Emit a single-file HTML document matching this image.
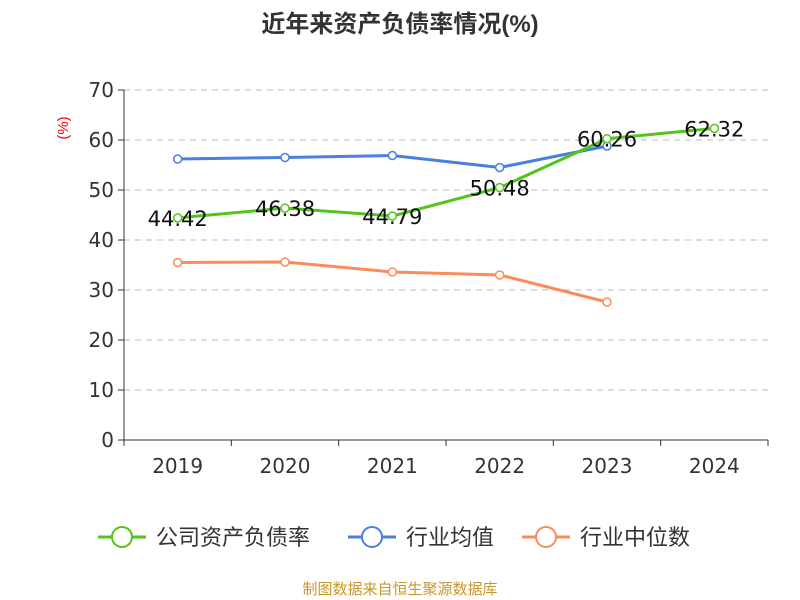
<!DOCTYPE html>
<html><head><meta charset="utf-8"><style>
body{margin:0;background:#fff;}
svg{display:block;font-family:"Liberation Sans","Noto Sans CJK SC",sans-serif;}
.num{font-family:"DejaVu Sans","Liberation Sans",sans-serif;}
</style></head><body>
<svg id="chart" width="800" height="600">
<text x="400" y="32" text-anchor="middle" font-size="24" font-weight="bold" fill="#333">近年来资产负债率情况(%)</text>
<text x="68" y="128" text-anchor="middle" font-size="15" fill="#e00" transform="rotate(-90 68 128)">(%)</text>
<g id="grid"></g><g id="axes"></g><g id="series"></g>
<g>
<g><line x1="98" y1="537" x2="146" y2="537" stroke="#52c41a" stroke-width="3"/><circle cx="122" cy="537" r="10" fill="#fff" stroke="#52c41a" stroke-width="2"/><text x="156" y="545" font-size="22" fill="#333">公司资产负债率</text></g>
<g><line x1="348" y1="537" x2="396" y2="537" stroke="#4a7fe0" stroke-width="3"/><circle cx="372" cy="537" r="10" fill="#fff" stroke="#4a7fe0" stroke-width="2"/><text x="406" y="545" font-size="22" fill="#333">行业均值</text></g>
<g><line x1="522" y1="537" x2="570" y2="537" stroke="#fb8c5a" stroke-width="3"/><circle cx="546" cy="537" r="10" fill="#fff" stroke="#fb8c5a" stroke-width="2"/><text x="580" y="545" font-size="22" fill="#333">行业中位数</text></g>
</g>
<text x="400" y="594" text-anchor="middle" font-size="15" fill="#c8962a">制图数据来自恒生聚源数据库</text>
</svg>
<script>
const years=["2019","2020","2021","2022","2023","2024"];
const company=[44.42,46.38,44.79,50.48,60.26,62.32];
const industryAvg=[56.2,56.5,56.9,54.5,58.8,null];
const industryMedian=[35.5,35.6,33.6,33.0,27.6,null];
const yTicks=[0,10,20,30,40,50,60,70];
const NS="http://www.w3.org/2000/svg";
const x0=124,x1=768,y0=440,y1=90,yMax=70;
const bw=(x1-x0)/years.length;
const X=i=>x0+bw*(i+0.5);
const Y=v=>y0-(v/yMax)*(y0-y1);
function mk(tag,attrs,parent){const e=document.createElementNS(NS,tag);for(const k in attrs)e.setAttribute(k,attrs[k]);parent.appendChild(e);return e;}
const grid=document.getElementById('grid'),axes=document.getElementById('axes'),ser=document.getElementById('series');
yTicks.forEach(t=>{
 if(t>0){const g=mk('line',{x1:x0,x2:x1,y1:Y(t),y2:Y(t),stroke:'#bbb','stroke-dasharray':'6,5'},grid);
 
 }
 const tk=mk('line',{x1:x0-6,x2:x0,y1:Y(t),y2:Y(t),stroke:'#333'},axes);
 
 
 const lb=mk('text',{x:x0-10,y:Y(t)+7,'text-anchor':'end','font-size':'20',fill:'#333',class:'num'},axes);
 lb.textContent=t;
 
 
});
const ya=mk('line',{x1:x0,x2:x0,y1:y1,y2:y0,stroke:'#333'},axes);


const xa=mk('line',{x1:x0,x2:x1,y1:y0,y2:y0,stroke:'#333'},axes);


for(let i=0;i<=years.length;i++){const t=mk('line',{x1:x0+bw*i,x2:x0+bw*i,y1:y0,y2:y0+6,stroke:'#333'},axes);
 
 }
years.forEach((yr,i)=>{const l=mk('text',{x:X(i),y:y0+33,'text-anchor':'middle','font-size':'20',fill:'#333',class:'num'},axes);
 l.textContent=yr;
 
 });
function series(vals,color,name,labels){
 const pts=vals.map((v,i)=>v==null?null:[X(i),Y(v)]).filter(p=>p);
 const pl=mk('polyline',{points:pts.map(p=>p.join(',')).join(' '),fill:'none',stroke:color,'stroke-width':3},ser);
 
 
 vals.forEach((v,i)=>{if(v==null)return;
  const c=mk('circle',{cx:X(i),cy:Y(v),r:4,fill:'#fff',stroke:color,'stroke-width':1.5},ser);
  
  
  if(labels){const t=mk('text',{x:X(i),y:Y(v)+8,'text-anchor':'middle','font-size':'21',fill:'#111',class:'num'},ser);
   t.textContent=v.toFixed(2);
   
   }
 });
}
series(industryAvg,'#4a7fe0','industry-avg',false);
series(industryMedian,'#fb8c5a','industry-median',false);
series(company,'#52c41a','company',true);
</script>
</body></html>
